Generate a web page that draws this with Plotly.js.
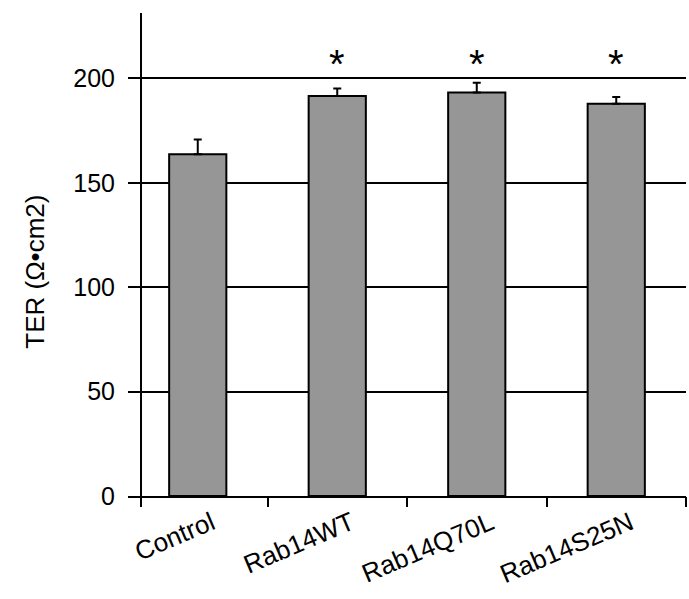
<!DOCTYPE html>
<html>
<head>
<meta charset="utf-8">
<script src="https://cdn.plot.ly/plotly-3.0.1.min.js"></script>
<style>html,body{margin:0;padding:0;background:#fff;}#chart{width:689px;height:599px;}</style>
</head>
<body>
<div id="chart"></div>
<script>
const categories = ["Control", "Rab14WT", "Rab14Q70L", "Rab14S25N"];
const terValues = [163.6, 191.5, 193.2, 187.9];
const terErrors = [7.1, 3.6, 4.7, 3.2];
const significance = ["", "*", "*", "*"];
const yTickVals = [0, 50, 100, 150, 200];

const FONT = "Liberation Sans, Arial, sans-serif";
const yMax = 231.3;
const starLevel = 195.5;

const bars = {
  type: "bar",
  x: categories,
  y: terValues,
  marker: {color: "#969696", line: {color: "#000", width: 2}},
  error_y: {type: "data", array: terErrors, arrayminus: terErrors.map(() => 0), symmetric: false,
            color: "#000", thickness: 2, width: 4},
  hoverinfo: "x+y",
  showlegend: false
};
const helper = {type: "scatter", x: [0], y: [0], xaxis: "x2", yaxis: "y2",
                mode: "markers", marker: {opacity: 0}, hoverinfo: "skip", showlegend: false};

const annotations = categories.map((c, i) => ({
  x: c, y: starLevel, xref: "x", yref: "y",
  text: significance[i], showarrow: false, yanchor: "bottom",
  font: {family: FONT, size: 40, color: "#000"}
})).filter(a => a.text);

annotations.push({
  xref: "paper", yref: "paper", x: -0.1667, y: 0.4643,
  xanchor: "center", yanchor: "middle", textangle: -90, showarrow: false,
  text: "TER (Ω•cm2)", font: {family: FONT, size: 26, color: "#000"}
});

const layout = {
  width: 689, height: 599,
  margin: {l: 128, r: 3, t: 13, b: 102.5, pad: 0},
  paper_bgcolor: "#fff", plot_bgcolor: "#fff",
  bargap: 0.59,
  xaxis: {
    type: "category", range: [-0.5, 3.5],
    showline: true, linecolor: "#000", linewidth: 2,
    ticks: "", tickangle: -23, ticklabelshift: 14, showgrid: false, zeroline: false,
    tickfont: {family: FONT, size: 26, color: "#000"}
  },
  xaxis2: {
    overlaying: "x", anchor: "y", range: [-0.5, 3.5],
    tickvals: [-0.4068, 0.5, 1.5, 2.5, 3.5], showticklabels: false,
    ticks: "outside", ticklen: 10, tickwidth: 2, tickcolor: "#000",
    showgrid: false, zeroline: false, showline: false
  },
  yaxis: {
    range: [0, yMax], tickvals: yTickVals, ticktext: yTickVals.map(String),
    showline: false, ticks: "", ticklabelstandoff: 12,
    showgrid: true, gridcolor: "#000", gridwidth: 2, zeroline: false,
    tickfont: {family: FONT, size: 25, color: "#000"}
  },
  yaxis2: {
    overlaying: "y", anchor: "free", position: 13 / 558, range: [0, yMax],
    showline: true, linecolor: "#000", linewidth: 2,
    showticklabels: false, ticks: "", showgrid: false, zeroline: false
  },
  annotations: annotations
};

Plotly.newPlot("chart", [bars, helper], layout, {displayModeBar: false, staticPlot: true});
</script>
</body>
</html>
